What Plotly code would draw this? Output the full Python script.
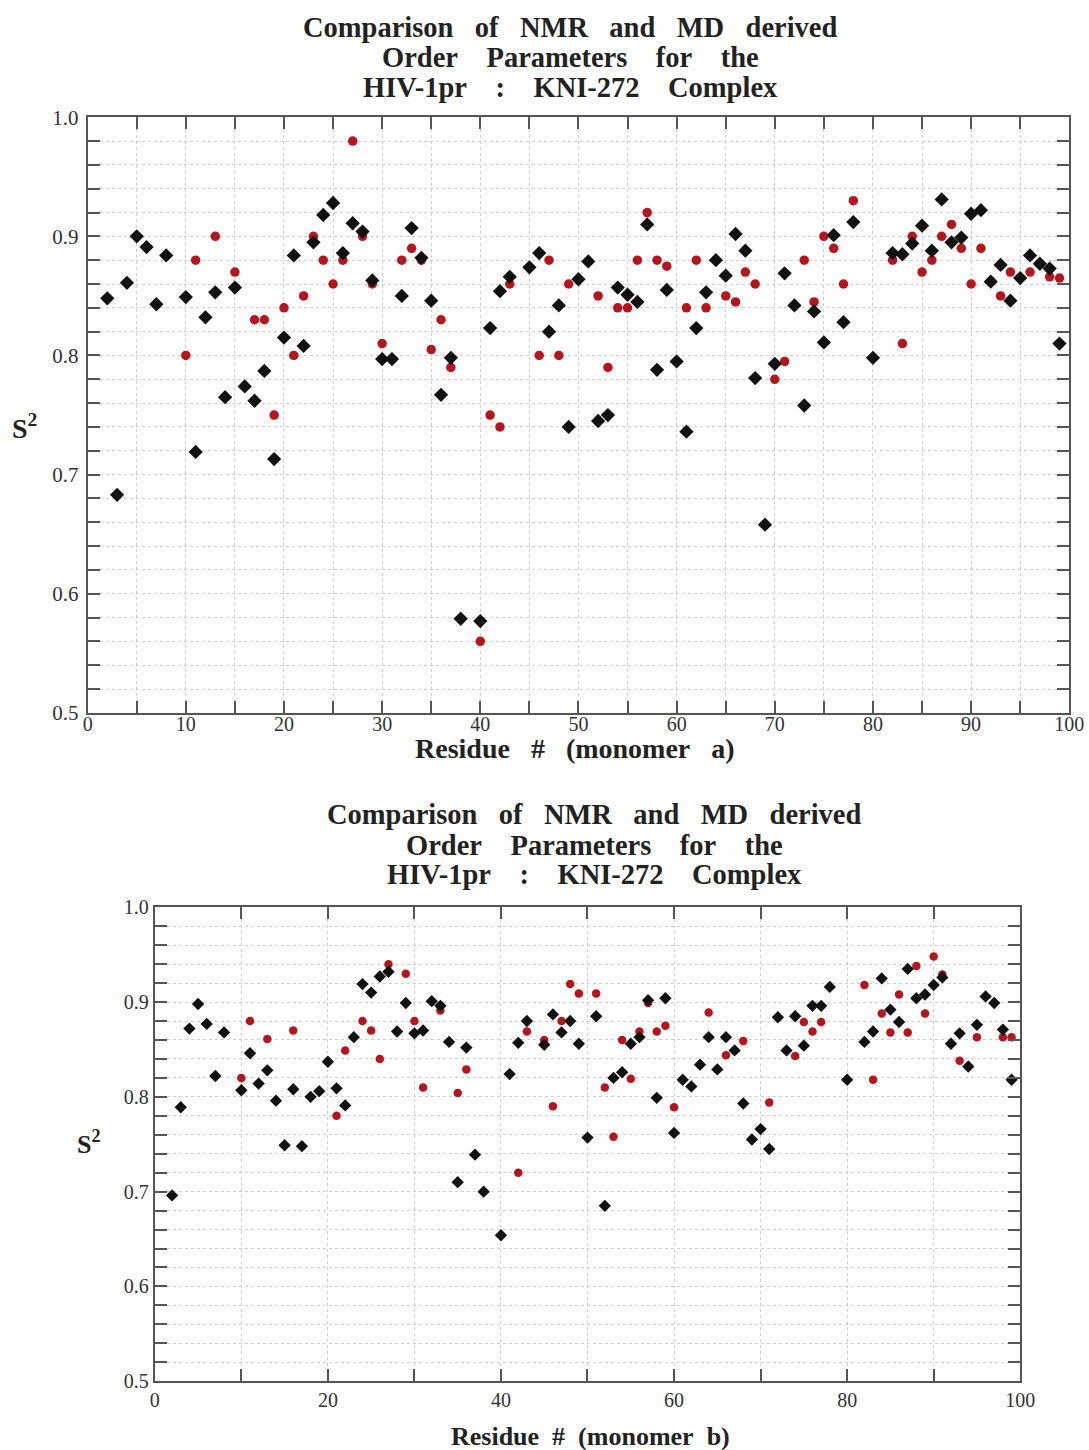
import plotly.graph_objects as go

# ---- Monomer a: order parameters S^2 per residue ----
res_a_md = [2, 3, 4, 5, 6, 7, 8, 10, 11, 12, 13, 14, 15, 16, 17, 18, 19, 20, 21, 22, 23, 24, 25, 26, 27, 28, 29, 30,
            31, 32, 33, 34, 35, 36, 37, 38, 40, 41, 42, 43, 45, 46, 47, 48, 49, 50, 51, 52, 53, 54, 55, 56, 57, 58,
            59, 60, 61, 62, 63, 64, 65, 66, 67, 68, 69, 70, 71, 72, 73, 74, 75, 76, 77, 78, 80, 82, 83, 84, 85, 86,
            87, 88, 89, 90, 91, 92, 93, 94, 95, 96, 97, 98, 99]
s2_a_md = [0.848, 0.683, 0.861, 0.900, 0.891, 0.843, 0.884, 0.849, 0.719, 0.832, 0.853, 0.765, 0.857, 0.774, 0.762,
           0.787, 0.713, 0.815, 0.884, 0.808, 0.895, 0.918, 0.928, 0.886, 0.911, 0.904, 0.863, 0.797, 0.797, 0.850,
           0.907, 0.882, 0.846, 0.767, 0.798, 0.579, 0.577, 0.823, 0.854, 0.866, 0.874, 0.886, 0.820, 0.842, 0.740,
           0.864, 0.879, 0.745, 0.750, 0.857, 0.851, 0.845, 0.910, 0.788, 0.855, 0.795, 0.736, 0.823, 0.853, 0.880,
           0.867, 0.902, 0.888, 0.781, 0.658, 0.793, 0.869, 0.842, 0.758, 0.837, 0.811, 0.901, 0.828, 0.912, 0.798,
           0.886, 0.885, 0.894, 0.909, 0.888, 0.931, 0.895, 0.899, 0.919, 0.922, 0.862, 0.876, 0.846, 0.865, 0.884,
           0.877, 0.873, 0.810]

res_a_nmr = [10, 11, 13, 15, 17, 18, 19, 20, 21, 22, 23, 24, 25, 26, 27, 28, 29, 30, 32, 33, 34, 35, 36, 37, 40, 41,
             42, 43, 46, 47, 48, 49, 52, 53, 54, 55, 56, 57, 58, 59, 61, 62, 63, 64, 65, 66, 67, 68, 70, 71, 73, 74,
             75, 76, 77, 78, 82, 83, 84, 85, 86, 87, 88, 89, 90, 91, 92, 93, 94, 96, 98, 99]
s2_a_nmr = [0.80, 0.88, 0.90, 0.87, 0.83, 0.83, 0.75, 0.84, 0.80, 0.85, 0.90, 0.88, 0.86, 0.88, 0.98, 0.90, 0.86,
            0.81, 0.88, 0.89, 0.88, 0.805, 0.83, 0.79, 0.56, 0.75, 0.74, 0.86, 0.80, 0.88, 0.80, 0.86, 0.85, 0.79,
            0.84, 0.84, 0.88, 0.92, 0.88, 0.875, 0.84, 0.88, 0.84, 0.88, 0.85, 0.845, 0.87, 0.86, 0.78, 0.795, 0.88,
            0.845, 0.90, 0.89, 0.86, 0.93, 0.88, 0.81, 0.90, 0.87, 0.88, 0.90, 0.91, 0.89, 0.86, 0.89, 0.862, 0.85,
            0.87, 0.87, 0.866, 0.865]

# ---- Monomer b ----
res_b_md = [2, 3, 4, 5, 6, 7, 8, 10, 11, 12, 13, 14, 15, 16, 17, 18, 19, 20, 21, 22, 23, 24, 25, 26, 27, 28, 29, 30,
            31, 32, 33, 34, 35, 36, 37, 38, 40, 41, 42, 43, 45, 46, 47, 48, 49, 50, 51, 52, 53, 54, 55, 56, 57, 58,
            59, 60, 61, 62, 63, 64, 65, 66, 67, 68, 69, 70, 71, 72, 73, 74, 75, 76, 77, 78, 80, 82, 83, 84, 85, 86,
            87, 88, 89, 90, 91, 92, 93, 94, 95, 96, 97, 98, 99]
s2_b_md = [0.696, 0.789, 0.872, 0.898, 0.877, 0.822, 0.868, 0.807, 0.846, 0.814, 0.828, 0.796, 0.749, 0.808, 0.748,
           0.800, 0.806, 0.837, 0.809, 0.791, 0.863, 0.919, 0.910, 0.927, 0.932, 0.869, 0.899, 0.867, 0.870, 0.901,
           0.896, 0.858, 0.710, 0.852, 0.739, 0.700, 0.654, 0.824, 0.857, 0.880, 0.855, 0.887, 0.868, 0.880, 0.856,
           0.757, 0.885, 0.685, 0.820, 0.826, 0.856, 0.863, 0.902, 0.799, 0.904, 0.762, 0.818, 0.811, 0.834, 0.863,
           0.829, 0.863, 0.849, 0.793, 0.755, 0.766, 0.745, 0.884, 0.849, 0.885, 0.854, 0.896, 0.896, 0.916, 0.818,
           0.858, 0.869, 0.925, 0.892, 0.879, 0.935, 0.904, 0.908, 0.918, 0.926, 0.856, 0.867, 0.832, 0.876, 0.906,
           0.899, 0.871, 0.818]

res_b_nmr = [10, 11, 13, 16, 21, 22, 24, 25, 26, 27, 29, 30, 31, 33, 35, 36, 42, 43, 45, 46, 47, 48, 49, 51, 52, 53,
             54, 55, 56, 57, 58, 59, 60, 64, 66, 68, 71, 74, 75, 76, 77, 82, 83, 84, 85, 86, 87, 88, 89, 90, 91, 93,
             95, 98, 99]
s2_b_nmr = [0.82, 0.88, 0.861, 0.87, 0.78, 0.849, 0.88, 0.87, 0.84, 0.94, 0.93, 0.88, 0.81, 0.891, 0.804, 0.829,
            0.72, 0.869, 0.86, 0.79, 0.88, 0.919, 0.909, 0.909, 0.81, 0.758, 0.86, 0.819, 0.869, 0.899, 0.869, 0.875,
            0.789, 0.889, 0.844, 0.859, 0.794, 0.843, 0.879, 0.869, 0.879, 0.918, 0.818, 0.888, 0.868, 0.908, 0.868,
            0.938, 0.888, 0.948, 0.929, 0.838, 0.863, 0.863, 0.863]

title_lines = ["Comparison of NMR and MD derived", "Order Parameters for the", "HIV-1pr : KNI-272 Complex"]
title_gaps = [3, 4, 4]
xlabel_a = "Residue # (monomer a)"
xlabel_b = "Residue # (monomer b)"
ylabel = "S<sup>2</sup>"

W, H = 1089, 1466
SERIF = "Liberation Serif, Times New Roman, serif"
RED = "#b5161e"
BLACK = "#111111"
AXIS = "#555555"
GRID = "#cfcfcf"
NB = "\u00a0"


def spaced(text, n):
    # widen the gaps between words, typewriter-style
    return text.replace(" ", NB * n)


def px(x):
    return x / W


def py(y):
    return 1 - y / H


fig = go.Figure()

panels = [
    ("x", "y", res_a_nmr, s2_a_nmr, res_a_md, s2_a_md, 11, 9.5),
    ("x2", "y2", res_b_nmr, s2_b_nmr, res_b_md, s2_b_md, 9.5, 8.5),
]
for xa, ya, rn, sn, rm, sm, dsz, csz in panels:
    fig.add_trace(go.Scatter(x=rn, y=sn, mode="markers", xaxis=xa, yaxis=ya, showlegend=False,
                             marker=dict(symbol="circle", size=csz, color=RED)))
    fig.add_trace(go.Scatter(x=rm, y=sm, mode="markers", xaxis=xa, yaxis=ya, showlegend=False,
                             marker=dict(symbol="diamond", size=dsz, color=BLACK)))


def xaxis_cfg(domain, dtick, mdtick, anchor, fsize, standoff):
    return dict(domain=domain, anchor=anchor, range=[0, 100], dtick=dtick, tick0=0,
                showline=True, linecolor=AXIS, linewidth=2, mirror="allticks",
                ticks="inside", ticklen=12, tickwidth=2, tickcolor=AXIS,
                showgrid=True, gridcolor=GRID, griddash="dot", gridwidth=1,
                minor=dict(dtick=mdtick, ticks="inside", ticklen=12, tickwidth=2, tickcolor=AXIS,
                           showgrid=True, gridcolor=GRID, griddash="dot", gridwidth=1),
                tickfont=dict(family=SERIF, size=fsize, color="#333"), zeroline=False,
                ticklabelstandoff=standoff)


def yaxis_cfg(domain, anchor, fsize, standoff):
    return dict(domain=domain, anchor=anchor, range=[0.5, 1.0], dtick=0.1, tick0=0.5, tickformat=".1f",
                showline=True, linecolor=AXIS, linewidth=2, mirror="allticks",
                ticks="inside", ticklen=12, tickwidth=2, tickcolor=AXIS,
                showgrid=True, gridcolor=GRID, griddash="dot", gridwidth=1,
                minor=dict(dtick=0.02, ticks="inside", ticklen=12, tickwidth=2, tickcolor=AXIS,
                           showgrid=True, gridcolor=GRID, griddash="dot", gridwidth=1),
                tickfont=dict(family=SERIF, size=fsize, color="#333"), zeroline=False,
                ticklabelstandoff=standoff)


fig.update_layout(
    width=W, height=H, margin=dict(l=0, r=0, t=0, b=0),
    paper_bgcolor="white", plot_bgcolor="white",
    xaxis=xaxis_cfg([px(84.2), px(1084.2)], 10, 5, "y", 20, -8),
    yaxis=yaxis_cfg([py(712.5), py(107.0)], "x", 21, 3),
    xaxis2=xaxis_cfg([px(152.6), px(1034.2)], 20, 10, "y2", 20, 0),
    yaxis2=yaxis_cfg([py(1392.0), py(910.2)], "x2", 20, 0),
)

annotations = []
# panel titles
for cx, ys in [(576, [16, 46, 77]), (600.5, [816, 847, 877])]:
    for line, gap, yy in zip(title_lines, title_gaps, ys):
        annotations.append(dict(text="<b>" + spaced(line, gap) + "</b>", x=px(cx), y=py(yy),
                                xref="paper", yref="paper", showarrow=False,
                                xanchor="center", yanchor="middle",
                                font=dict(family=SERIF, size=28.5, color="#222")))
# axis titles
annotations.append(dict(text="<b>" + spaced(xlabel_a, 3) + "</b>", x=px(581), y=py(749), xref="paper",
                        yref="paper", showarrow=False, xanchor="center", yanchor="middle",
                        font=dict(family=SERIF, size=28, color="#222")))
annotations.append(dict(text="<b>" + spaced(xlabel_b, 2) + "</b>", x=px(596.4), y=py(1447.8), xref="paper",
                        yref="paper", showarrow=False, xanchor="center", yanchor="middle",
                        font=dict(family=SERIF, size=26, color="#222")))
annotations.append(dict(text="<b>" + ylabel + "</b>", x=px(19.9), y=py(421.4), xref="paper", yref="paper",
                        showarrow=False, xanchor="center", yanchor="middle",
                        font=dict(family=SERIF, size=28, color="#222")))
annotations.append(dict(text="<b>" + ylabel + "</b>", x=px(85.2), y=py(1149.6), xref="paper", yref="paper",
                        showarrow=False, xanchor="center", yanchor="middle",
                        font=dict(family=SERIF, size=26, color="#222")))
fig.update_layout(annotations=annotations)

fig.write_html("out.html")
